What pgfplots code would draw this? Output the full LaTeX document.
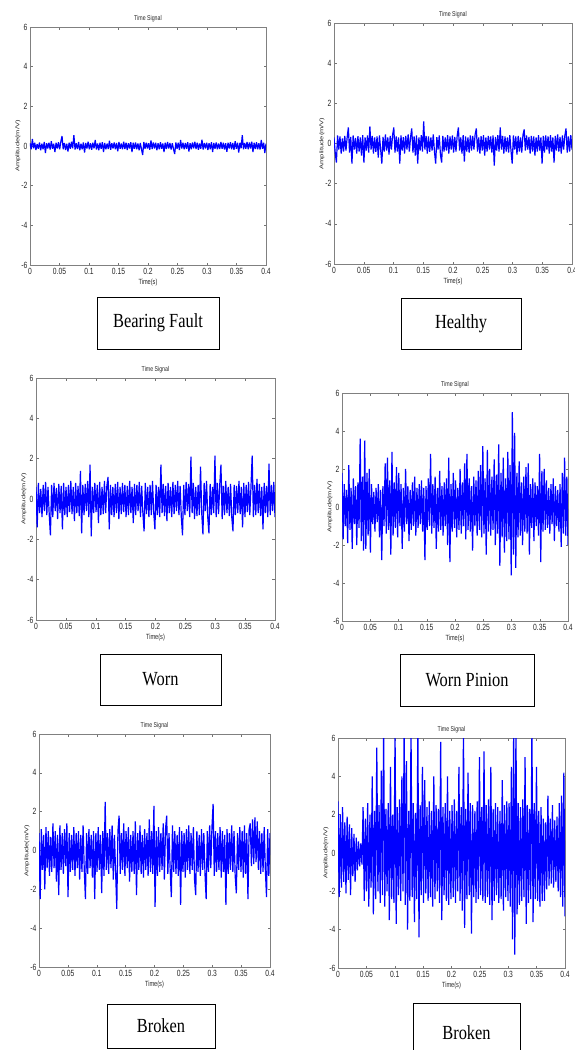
\documentclass[border=0pt]{standalone}
\usepackage{pgfplots}
\usepackage{pgfplotstable}
\pgfplotsset{compat=1.18}
\usepackage{fontspec}
\setmainfont{Liberation Serif}
\newfontfamily\arialf{Liberation Sans}
\newcommand{\sx}[1]{\scalebox{0.75}[1]{#1}}

\pgfplotstableread[row sep=\\]{y\\
0.14\\-0.17\\0.35\\-0.12\\0.16\\-0.2\\0.1\\-0.14\\0.18\\-0.22\\
0.12\\-0.16\\0.2\\-0.35\\0.14\\-0.12\\0.17\\-0.18\\0.24\\-0.14\\
0.11\\-0.3\\0.16\\-0.13\\0.19\\-0.17\\0.22\\0.5\\-0.16\\0.15\\
-0.2\\0.12\\-0.28\\0.17\\-0.14\\0.21\\-0.12\\0.55\\-0.18\\0.14\\
-0.15\\0.2\\-0.22\\0.12\\-0.17\\0.18\\-0.33\\0.15\\-0.13\\0.22\\
-0.16\\0.14\\-0.19\\0.17\\-0.12\\0.3\\-0.18\\0.13\\-0.21\\0.16\\
-0.14\\0.19\\-0.3\\0.15\\-0.17\\0.12\\-0.15\\0.27\\-0.19\\0.14\\
-0.13\\0.18\\-0.16\\0.15\\-0.27\\0.2\\-0.14\\0.13\\-0.17\\0.22\\
-0.15\\0.17\\-0.2\\0.14\\-0.12\\0.19\\-0.3\\0.16\\-0.14\\0.18\\
-0.17\\0.13\\-0.22\\0.15\\-0.16\\-0.45\\0.2\\-0.14\\0.17\\-0.13\\
0.14\\-0.19\\0.28\\-0.15\\0.18\\-0.12\\0.16\\-0.21\\0.14\\-0.17\\
0.19\\-0.14\\0.13\\-0.3\\0.17\\-0.15\\0.2\\-0.13\\0.15\\-0.18\\
0.14\\-0.16\\-0.4\\0.18\\-0.14\\0.17\\-0.2\\0.3\\-0.13\\0.16\\
-0.17\\0.15\\-0.14\\0.19\\-0.28\\0.14\\-0.16\\0.18\\-0.12\\0.21\\
-0.15\\0.17\\-0.19\\0.13\\-0.14\\0.32\\-0.18\\0.15\\-0.12\\0.17\\
-0.2\\0.14\\-0.16\\0.19\\-0.3\\0.15\\-0.14\\0.18\\-0.17\\0.13\\
-0.15\\0.2\\-0.14\\0.16\\-0.18\\0.14\\-0.29\\0.17\\-0.13\\0.19\\
-0.16\\0.15\\-0.19\\0.24\\-0.14\\0.17\\-0.33\\0.16\\-0.12\\0.55\\
-0.17\\0.15\\-0.14\\0.2\\-0.16\\0.18\\-0.13\\0.22\\-0.3\\0.16\\
-0.15\\0.19\\-0.17\\0.14\\-0.18\\0.3\\-0.14\\0.17\\-0.35\\0.12\\
}\bearing

\pgfplotstableread[row sep=\\]{y\\
0.3\\-0.45\\-0.95\\0.4\\-0.3\\0.35\\-0.5\\0.25\\-0.4\\0.38\\
-0.35\\0.3\\0.8\\-0.45\\0.33\\-1.0\\0.4\\-0.3\\0.28\\-0.5\\
0.36\\-0.4\\0.3\\-0.6\\0.42\\-0.95\\0.3\\-0.35\\0.4\\-0.45\\
0.85\\-0.3\\0.38\\-0.5\\0.3\\-0.42\\0.35\\-0.7\\0.4\\-0.3\\
-1.0\\0.33\\-0.4\\0.45\\-0.35\\0.3\\-0.55\\0.38\\-0.3\\0.42\\
0.8\\-0.45\\0.35\\-0.4\\0.3\\-1.0\\0.4\\-0.35\\0.32\\-0.5\\
0.38\\-0.3\\0.45\\-0.4\\0.3\\0.75\\-0.45\\0.35\\-0.6\\0.4\\
-1.0\\0.3\\-0.35\\0.42\\-0.4\\1.1\\-0.3\\0.38\\-0.5\\0.35\\
-0.42\\0.3\\-0.35\\0.45\\-0.4\\-1.0\\0.32\\-0.3\\0.4\\-0.55\\
-0.95\\0.38\\-0.4\\0.3\\-0.35\\0.42\\-0.5\\0.35\\-0.3\\0.4\\
-0.45\\0.33\\-0.4\\0.38\\0.8\\-0.35\\0.3\\-0.5\\0.42\\-0.9\\
0.35\\-0.4\\0.3\\-0.45\\0.4\\-0.35\\0.38\\-0.3\\0.45\\0.75\\
-0.4\\0.3\\-0.5\\0.36\\-0.35\\0.42\\-0.6\\0.3\\-0.4\\0.38\\
-0.3\\0.35\\-0.45\\0.4\\-1.1\\0.33\\-0.35\\0.42\\-0.4\\0.8\\
-0.3\\0.38\\-0.5\\0.35\\-0.4\\0.3\\-0.45\\0.42\\-0.35\\-1.0\\
0.4\\-0.3\\0.35\\-0.55\\0.38\\-0.4\\0.3\\-0.45\\0.42\\0.7\\
-0.35\\0.4\\-0.3\\0.33\\-0.5\\0.38\\-0.4\\0.35\\-0.6\\0.3\\
-0.4\\0.42\\-0.35\\0.3\\-1.0\\0.38\\-0.45\\0.4\\-0.3\\0.35\\
-0.5\\0.42\\-0.4\\0.3\\-0.95\\0.38\\-0.35\\0.45\\-0.4\\0.33\\
-0.5\\0.4\\-0.3\\0.38\\0.75\\-0.45\\0.35\\-0.4\\0.42\\-0.3\\
}\healthy

\pgfplotstableread[row sep=\\]{y\\
0.6\\-1.4\\0.8\\-0.7\\0.5\\-0.9\\0.7\\-0.6\\0.85\\-0.8\\
0.6\\-0.75\\-1.8\\0.7\\-0.9\\0.8\\-0.6\\0.55\\-1.0\\0.75\\
-0.7\\0.65\\-1.5\\0.8\\-0.8\\0.6\\-0.9\\0.7\\-0.65\\0.9\\
-0.75\\0.6\\-1.1\\0.8\\-0.7\\0.65\\-0.85\\1.4\\-1.7\\0.7\\
-0.8\\0.75\\-0.6\\0.9\\-0.9\\1.7\\-1.85\\0.6\\-0.7\\0.8\\
-0.65\\0.7\\-1.2\\0.85\\-0.8\\0.6\\-0.75\\0.9\\-0.7\\0.65\\
1.1\\-1.5\\0.7\\-0.8\\0.6\\-0.9\\0.75\\-0.7\\0.85\\-1.0\\
0.6\\-0.75\\0.8\\-0.65\\0.7\\-0.9\\0.65\\-0.8\\0.9\\-0.7\\
0.6\\-1.2\\0.75\\-0.8\\0.7\\-0.6\\0.85\\-0.9\\0.65\\-0.7\\
-1.6\\0.8\\-0.75\\0.6\\-0.9\\0.7\\-0.8\\0.9\\-0.65\\-1.5\\
0.7\\-0.8\\0.6\\-0.9\\1.7\\-0.7\\0.75\\-0.85\\0.65\\-1.1\\
0.8\\-0.7\\0.6\\-0.9\\0.85\\-0.75\\0.7\\-0.6\\0.9\\-0.8\\
0.65\\-0.9\\-1.8\\0.7\\-0.8\\0.85\\-0.6\\0.75\\-0.9\\2.1\\
-0.7\\0.8\\-1.0\\0.6\\-0.85\\0.7\\-0.8\\1.6\\-0.7\\-1.75\\
0.8\\-0.6\\0.9\\-0.9\\-1.7\\0.75\\-0.8\\0.6\\-0.7\\2.15\\
-0.9\\0.8\\-0.75\\0.7\\1.7\\-1.0\\0.65\\-0.8\\0.9\\-0.7\\
0.6\\-0.85\\0.75\\-0.9\\-1.6\\0.7\\-0.8\\0.65\\-0.7\\0.9\\
-0.75\\0.6\\-1.4\\0.8\\-0.9\\0.7\\-0.65\\0.85\\-0.8\\0.6\\
2.15\\-0.9\\0.7\\-0.8\\1.0\\-0.7\\0.75\\-0.85\\0.6\\-1.5\\
0.8\\-0.7\\0.65\\-0.9\\1.75\\-0.8\\0.7\\-0.6\\0.85\\-0.9\\
}\worn

\pgfplotstableread[row sep=\\]{y\\
1.8\\-1.7\\1.2\\-1.0\\0.9\\-1.9\\2.2\\-1.2\\1.0\\-2.2\\
1.5\\-0.9\\1.1\\-2.0\\1.3\\-1.1\\3.6\\-1.8\\1.6\\-2.3\\
3.5\\-2.2\\1.8\\-1.5\\2.0\\-2.4\\1.2\\-0.9\\0.8\\-1.3\\
1.0\\-0.8\\1.2\\-1.6\\0.9\\-2.8\\1.1\\-1.0\\2.3\\-1.4\\
2.6\\-1.2\\1.4\\-2.5\\2.9\\-1.5\\1.3\\-1.1\\2.1\\-1.6\\
1.8\\-1.0\\1.2\\-2.2\\1.0\\-1.3\\2.0\\-0.9\\1.1\\-1.8\\
0.9\\-1.2\\1.3\\-1.0\\1.6\\-1.5\\1.0\\-1.1\\1.2\\-0.9\\
1.4\\-1.3\\1.0\\-2.8\\1.1\\-1.2\\1.5\\-1.0\\2.8\\-1.4\\
1.2\\-1.1\\1.6\\-2.2\\1.0\\-1.3\\1.9\\-1.2\\1.1\\-1.5\\
1.3\\-1.0\\1.5\\-2.0\\2.6\\-2.9\\1.2\\-1.3\\1.8\\-1.1\\
1.4\\-1.6\\1.0\\-1.2\\2.0\\-1.4\\1.3\\-1.0\\2.3\\-1.7\\
2.8\\-1.2\\1.5\\-1.3\\1.1\\-2.3\\1.6\\-1.0\\1.4\\-1.5\\
1.9\\-1.2\\2.2\\-1.6\\3.2\\-1.4\\1.5\\-2.5\\3.0\\-1.3\\
2.0\\-1.5\\1.6\\-1.2\\2.5\\-2.0\\1.7\\-1.4\\3.3\\-3.1\\
1.8\\-1.6\\2.6\\-2.4\\1.5\\-1.8\\2.9\\-1.7\\2.2\\-3.6\\
5.0\\-2.5\\3.9\\-3.2\\1.8\\-1.6\\2.4\\-1.5\\1.3\\-2.0\\
1.6\\-1.3\\2.1\\-1.4\\2.3\\-2.5\\1.2\\-1.1\\1.5\\-1.8\\
1.3\\-1.0\\1.1\\-1.5\\2.8\\-2.9\\1.9\\-1.3\\2.0\\-1.2\\
1.4\\-1.1\\1.0\\-1.4\\1.2\\-0.9\\1.5\\-1.8\\1.1\\-1.0\\
0.9\\-1.3\\1.2\\-2.1\\1.8\\-1.4\\2.6\\-1.5\\1.6\\-2.0\\
}\pinion

\pgfplotstableread[row sep=\\]{y\\
0.9\\-2.5\\1.1\\-1.0\\0.8\\-2.0\\1.2\\-0.9\\1.0\\-1.3\\
0.7\\-1.1\\1.4\\-0.9\\1.0\\-1.6\\0.8\\-2.3\\1.3\\-1.0\\
0.9\\-1.2\\1.1\\-0.8\\1.4\\-2.4\\0.9\\-1.1\\0.8\\-1.0\\
1.2\\-1.3\\0.9\\-0.9\\1.0\\-1.5\\0.8\\-1.1\\1.3\\-1.0\\
-2.5\\0.9\\-1.2\\1.1\\-0.9\\0.8\\-1.4\\1.0\\-2.5\\0.9\\
-1.1\\1.2\\-1.0\\0.8\\-2.2\\1.0\\-1.3\\2.5\\-1.0\\0.9\\
-1.2\\1.1\\-0.9\\1.3\\-1.5\\0.8\\-1.1\\-3.0\\1.0\\1.8\\
-1.2\\0.9\\-1.0\\1.4\\-1.3\\1.0\\-0.9\\1.2\\-1.6\\0.8\\
-1.1\\1.0\\-1.2\\1.5\\-2.3\\0.9\\-1.0\\1.3\\-1.2\\0.8\\
-1.4\\1.1\\-1.0\\0.9\\-1.3\\1.6\\-1.1\\1.0\\-1.2\\2.3\\
-2.9\\1.0\\-1.3\\1.2\\-1.1\\0.9\\-1.0\\1.4\\-1.5\\1.1\\
1.8\\-1.2\\0.9\\-1.0\\-2.4\\1.3\\-1.1\\1.0\\-1.2\\0.8\\
-1.3\\1.2\\-2.8\\1.0\\-1.1\\0.9\\-1.4\\1.1\\-1.0\\1.3\\
-1.2\\0.9\\-1.0\\1.2\\-1.5\\-2.3\\1.0\\-1.1\\0.8\\-1.3\\
1.1\\-1.0\\0.9\\-1.2\\-2.5\\1.0\\-1.1\\1.3\\-0.9\\1.2\\
2.4\\-1.3\\1.0\\-1.1\\0.9\\-1.0\\1.2\\-1.4\\1.0\\-1.1\\
0.8\\-2.8\\1.1\\-1.2\\0.9\\-1.0\\1.3\\-1.1\\1.0\\-1.3\\
-2.2\\0.9\\-1.0\\1.2\\-1.1\\1.0\\-1.4\\1.3\\-1.2\\0.9\\
-2.5\\1.1\\1.4\\-0.8\\1.6\\-0.7\\1.7\\-0.6\\1.5\\-1.0\\
1.0\\-1.2\\0.9\\-1.1\\1.2\\-1.0\\-2.4\\1.1\\-1.3\\0.9\\
}\brokenA

\pgfplotstableread[row sep=\\]{y\\
2.7\\-2.3\\2.0\\-1.8\\2.4\\-1.5\\1.6\\-2.1\\1.9\\-1.4\\
1.5\\-2.2\\1.3\\-1.2\\1.0\\-1.5\\0.8\\-0.9\\0.6\\-0.7\\
0.5\\-0.6\\2.4\\-2.5\\1.8\\-2.0\\2.6\\-2.8\\2.0\\-1.8\\
4.0\\-3.2\\2.2\\-2.4\\5.5\\-2.0\\2.5\\-2.6\\4.3\\-2.2\\
6.5\\-2.8\\2.3\\-2.0\\2.6\\-3.5\\4.5\\-2.4\\2.0\\-2.6\\
6.5\\-3.7\\2.4\\-2.2\\2.8\\-2.5\\4.0\\-2.0\\6.5\\-2.7\\
4.8\\-4.0\\2.2\\-2.5\\6.5\\-2.3\\2.6\\-3.6\\2.1\\-2.4\\
6.5\\-4.4\\2.5\\-2.2\\4.5\\-2.6\\3.8\\-2.1\\2.4\\-2.5\\
2.7\\-2.3\\2.2\\-2.8\\4.0\\-2.4\\2.5\\-2.0\\2.3\\-2.6\\
5.8\\-3.5\\2.4\\-2.2\\2.6\\-2.5\\4.0\\-2.7\\2.2\\-2.4\\
2.5\\-2.3\\2.8\\-2.6\\2.2\\-2.0\\4.5\\-2.5\\2.4\\-3.0\\
6.5\\-3.9\\2.3\\-2.4\\4.2\\-2.2\\2.6\\-4.2\\2.5\\-2.3\\
2.2\\-2.6\\2.7\\-2.4\\5.0\\-2.2\\2.4\\-2.5\\5.3\\-2.6\\
2.5\\-2.3\\2.8\\-2.7\\4.5\\-3.5\\2.3\\-2.5\\2.6\\-2.2\\
2.4\\-2.6\\2.2\\-2.4\\3.8\\-3.0\\2.5\\-2.3\\2.7\\-2.5\\
2.6\\-2.8\\4.5\\-4.5\\6.5\\-5.3\\6.5\\-3.2\\2.6\\-2.7\\
2.4\\-2.5\\2.8\\-2.3\\5.0\\-3.7\\2.5\\-2.6\\2.3\\-2.4\\
6.5\\-3.6\\2.6\\-2.4\\4.5\\-2.5\\2.2\\-2.8\\2.4\\-2.5\\
1.8\\-2.5\\1.6\\-1.9\\3.0\\-1.7\\1.8\\-1.6\\2.5\\-1.8\\
1.7\\-1.5\\1.9\\-2.0\\2.6\\-2.3\\3.0\\-2.8\\4.2\\-3.3\\
}\brokenB

\pgfplotsset{
  sig/.style={
    scale only axis,
    xmin=0, xmax=0.4, ymin=-6, ymax=6,
    xtick={0,0.05,0.1,0.15,0.2,0.25,0.3,0.35,0.4},
    xticklabels={\sx{0},\sx{0.05},\sx{0.1},\sx{0.15},\sx{0.2},\sx{0.25},\sx{0.3},\sx{0.35},\sx{0.4}},
    ytick={-6,-4,-2,0,2,4,6},
    yticklabels={\sx{-6},\sx{-4},\sx{-2},\sx{0},\sx{2},\sx{4},\sx{6}},
    tick align=inside,
    major tick length=2.5pt,
    tick style={black!55, line width=0.4pt},
    axis line style={black!50, line width=0.7pt},
    ticklabel style={font=\arialf\fontsize{9}{10}\selectfont, text=black!85},
    xticklabel style={yshift=0.5pt},
    yticklabel style={xshift=1pt},
    title={\sx{Time Signal}},
    title style={font=\arialf\fontsize{7}{8}\selectfont, text=black!85, yshift=-4pt},
    xlabel={\sx{Time(s)}},
    ylabel={\scalebox{1}[0.72]{Amplitude(m/V)}},
    xlabel style={font=\arialf\fontsize{7.5}{8}\selectfont, text=black!85, yshift=2pt},
    ylabel style={font=\arialf\fontsize{7.5}{8}\selectfont, text=black!85, yshift=-6pt},
    anchor=south west,
  },
  sigline/.style={color={rgb,255:red,0;green,0;blue,255}, line width=1.2pt, no markers, line join=bevel},
}

\newcommand{\boxlabel}[5]{%
  \draw[black, line width=0.7pt] (#1pt,-#2pt) rectangle (#3pt,-#4pt);
  \node[font=\fontsize{20}{22}\selectfont, anchor=center] at ({(#1+#3)/2*1pt},{-(#2+#4)/2*1pt}) {\scalebox{0.82}[1]{#5}};
}

\begin{document}
\begin{tikzpicture}
\path[use as bounding box] (0pt,0pt) rectangle (575pt,-1050pt);

% Panel 1: Bearing Fault
\begin{axis}[sig, at={(30pt,-265pt)}, width=236pt, height=238pt]
\addplot[sigline] table[x expr=\coordindex*0.4/199, y=y]{\bearing};
\end{axis}
\boxlabel{97}{297}{219}{349}{Bearing Fault}

% Panel 2: Healthy
\begin{axis}[sig, at={(334pt,-264pt)}, width=238pt, height=241pt]
\addplot[sigline] table[x expr=\coordindex*0.4/199, y=y]{\healthy};
\end{axis}
\boxlabel{401}{298}{521}{349}{Healthy}

% Panel 3: Worn
\begin{axis}[sig, at={(36pt,-620pt)}, width=239pt, height=242pt]
\addplot[sigline] table[x expr=\coordindex*0.4/199, y=y]{\worn};
\end{axis}
\boxlabel{100}{654}{221}{705}{Worn}

% Panel 4: Worn Pinion
\begin{axis}[sig, at={(342pt,-621pt)}, width=226pt, height=228pt]
\addplot[sigline] table[x expr=\coordindex*0.4/199, y=y]{\pinion};
\end{axis}
\boxlabel{400}{654}{534}{706}{Worn Pinion}

% Panel 5: Broken
\begin{axis}[sig, at={(39pt,-967pt)}, width=231pt, height=233pt]
\addplot[sigline] table[x expr=\coordindex*0.4/199, y=y]{\brokenA};
\end{axis}
\boxlabel{107}{1004}{215}{1048}{Broken}

% Panel 6: Broken
\begin{axis}[sig, at={(338pt,-968pt)}, width=227pt, height=230pt]
\addplot[sigline] table[x expr=\coordindex*0.4/199, y=y]{\brokenB};
\end{axis}
\boxlabel{413}{1003}{520}{1062}{Broken}

\end{tikzpicture}
\end{document}
